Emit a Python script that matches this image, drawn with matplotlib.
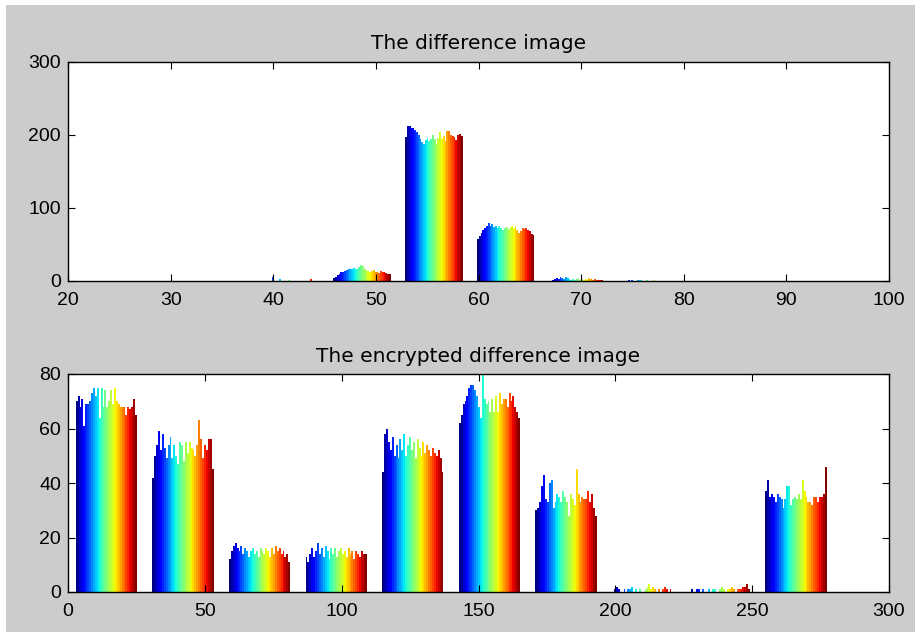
import matplotlib
matplotlib.use('Agg')
import matplotlib.pyplot as plt
from matplotlib.patches import Rectangle
import numpy as np

# top histogram: bin centers and counts per column (32 columns, jet colours)
top_centers = [41.65, 48.65, 55.65, 62.65, 69.65, 76.65]
top_counts = [
    [0, 0, 0, 0, 0, 0, 5, 0, 0, 0, 3, 0, 0, 0, 0, 2, 0, 0, 0, 0, 0, 0, 0, 0, 0, 0, 0, 3, 0, 0, 0, 0],
    [4, 6, 8, 10, 12, 13, 14, 15, 16, 17, 17, 18, 16, 17, 19, 22, 20, 17, 15, 14, 13, 14, 15, 12, 13, 11, 14, 12, 13, 11, 10, 9],
    [197, 212, 213, 210, 209, 207, 204, 200, 195, 190, 188, 193, 196, 192, 195, 200, 194, 188, 196, 204, 195, 198, 192, 205, 206, 200, 198, 197, 193, 200, 202, 198],
    [58, 62, 66, 70, 72, 76, 80, 75, 78, 74, 76, 72, 75, 73, 70, 72, 74, 70, 73, 75, 72, 76, 70, 66, 68, 72, 71, 72, 70, 68, 65, 63],
    [0, 0, 2, 3, 4, 3, 5, 4, 3, 5, 4, 3, 2, 3, 2, 3, 4, 2, 3, 2, 3, 2, 4, 3, 2, 3, 2, 1, 2, 1, 0, 0],
    [0, 0, 0, 0, 1, 0, 1, 0, 0, 1, 2, 1, 0, 0, 1, 0, 0, 0, 1, 0, 0, 0, 0, 0, 0, 0, 0, 0, 0, 0, 0, 0],
]

# bottom histogram
bot_centers = [14, 42, 70, 98, 126, 154, 182, 210, 238, 266]
bot_counts = [
    [70, 72, 68, 71, 61, 69, 69, 70, 73, 75, 72, 75, 64, 75, 68, 74, 68, 70, 74, 69, 75, 70, 69, 68, 68, 68, 65, 68, 67, 68, 71, 65],
    [42, 50, 54, 59, 52, 58, 53, 49, 54, 57, 49, 54, 50, 47, 55, 54, 48, 55, 51, 55, 53, 52, 50, 54, 63, 56, 49, 54, 52, 56, 56, 45],
    [12, 15, 17, 18, 16, 15, 17, 14, 16, 15, 13, 15, 16, 14, 15, 13, 16, 15, 14, 16, 15, 13, 16, 14, 17, 15, 16, 14, 15, 13, 14, 11],
    [13, 11, 14, 16, 13, 15, 18, 14, 16, 13, 17, 15, 12, 16, 14, 16, 13, 15, 16, 14, 15, 13, 16, 14, 15, 12, 15, 14, 13, 15, 14, 14],
    [44, 58, 60, 55, 52, 57, 50, 54, 49, 56, 52, 58, 50, 54, 57, 52, 55, 49, 56, 53, 50, 55, 51, 54, 52, 50, 53, 51, 50, 52, 49, 44],
    [62, 65, 69, 70, 72, 75, 76, 76, 74, 72, 68, 64, 80, 71, 69, 70, 66, 71, 66, 72, 66, 73, 69, 71, 71, 68, 73, 70, 72, 68, 66, 64],
    [30, 31, 33, 39, 43, 34, 33, 40, 41, 31, 33, 36, 35, 33, 37, 35, 33, 28, 36, 34, 32, 45, 36, 33, 35, 34, 34, 37, 33, 36, 31, 28],
    [0, 1, 2, 1, 0, 0, 1, 0, 1, 1, 2, 0, 1, 0, 1, 0, 0, 1, 2, 3, 1, 2, 1, 0, 1, 0, 1, 2, 1, 0, 1, 0],
    [0, 1, 0, 0, 1, 1, 0, 1, 0, 0, 1, 0, 1, 1, 0, 0, 1, 2, 1, 0, 1, 1, 2, 1, 0, 1, 1, 1, 2, 2, 3, 1],
    [37, 41, 35, 36, 35, 33, 36, 35, 34, 31, 34, 39, 39, 32, 34, 35, 34, 36, 34, 41, 37, 35, 33, 33, 32, 35, 35, 33, 35, 35, 36, 46],
]

plt.rcParams['font.family'] = ['Liberation Sans', 'DejaVu Sans']


def grouped_hist(ax, centers, counts, binw):
    counts = np.array(counts, dtype=float)
    ncol = counts.shape[1]
    gw = 0.8 * binw
    w = gw / ncol
    colors = plt.cm.jet(np.linspace(0, 1, ncol))
    for j in range(ncol):
        x = np.array(centers) - gw / 2 + (j + 0.5) * w
        ax.bar(x, counts[:, j], width=w * 1.02, color=colors[j], linewidth=0, antialiased=False)


def style(ax, title):
    ax.set_title(title, fontsize=14.5, pad=9, family='DejaVu Sans')
    ax.tick_params(direction='in', length=5, labelsize=14, top=True, right=True)
    ax.tick_params(axis='x', pad=8)
    ax.tick_params(axis='y', pad=5)
    for s in ax.spines.values():
        s.set_linewidth(1.0)
        s.set_color('black')


fig = plt.figure(figsize=(9.15, 6.32), dpi=100, facecolor='white')
fig.patches.append(Rectangle((6 / 915, 0), 1, 1 - 5 / 632, transform=fig.transFigure,
                             facecolor='#cccccc', edgecolor='none', zorder=-10))

ax1 = fig.add_axes([68 / 915, 1 - 281 / 632, 821 / 915, 219 / 632])
grouped_hist(ax1, top_centers, top_counts, 7.0)
ax1.set_xlim(20, 100)
ax1.set_ylim(0, 300)
ax1.set_xticks(range(20, 101, 10))
ax1.set_yticks([0, 100, 200, 300])
style(ax1, 'The difference image')

ax2 = fig.add_axes([68 / 915, 1 - 592 / 632, 821 / 915, 218 / 632])
grouped_hist(ax2, bot_centers, bot_counts, 28.0)
ax2.set_xlim(0, 300)
ax2.set_ylim(0, 80)
ax2.set_xticks(range(0, 301, 50))
ax2.set_yticks(range(0, 81, 20))
style(ax2, 'The encrypted difference image')

fig.savefig('out.png', dpi=100, facecolor=fig.get_facecolor())
